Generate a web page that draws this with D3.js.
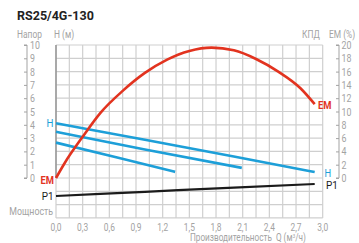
<!DOCTYPE html>
<html><head><meta charset="utf-8">
<script src="https://cdn.jsdelivr.net/npm/d3@7"></script>
<style>html,body{margin:0;padding:0;background:#fff;}svg{display:block;}</style>
</head><body>
<script>
// ---- data ----
const title = "RS25/4G-130";
const xTicks = [0, 0.3, 0.6, 0.9, 1.2, 1.5, 1.8, 2.1, 2.4, 2.7, 3.0];
const hTicks = [0,1,2,3,4,5,6,7,8,9,10];
const emTicks = [0,2,4,6,8,10,12,14,16,18,20];
// EM (efficiency %) curve
const emQ = [0, 0.1, 0.3, 0.5, 0.75, 1.0, 1.25, 1.5, 1.75, 2.0, 2.25, 2.5, 2.75, 2.91];
const emV = [0, 2.3, 6.2, 9.8, 13.1, 15.8, 17.8, 19.1, 19.6, 19.2, 17.9, 16.0, 13.5, 11.1];
// H curves (three speeds)
const h1Q = [0, 1.0, 2.0, 2.91];
const h1V = [4.12, 2.87, 1.62, 0.45];
const h2Q = [0, 1.0, 2.09];
const h2V = [3.47, 2.15, 0.76];
const h3Q = [0, 0.7, 1.34];
const h3V = [2.66, 1.53, 0.46];
// P1 power curve (W)
const p1Q = [0, 1.0, 2.0, 2.91];
const p1V = [55, 65.5, 76, 85];

const W = 359, H = 243;
const svg = d3.select("body").append("svg").attr("width", W).attr("height", H);

const x = d3.scaleLinear().domain([0, 3]).range([56, 322.7]);
const yH = d3.scaleLinear().domain([0, 10]).range([178, 45]);
const yE = d3.scaleLinear().domain([0, 20]).range([178, 45]);
const yP = d3.scaleLinear().domain([0, 100]).range([218, 178]);

const gray = "#a3a3a3", grid = "#cfcfcf", red = "#e2331f", blue = "#1d9fd8", black = "#1b1b1b";
const FONT = "Roboto, 'Noto Sans', sans-serif";

function ctext(str, px, py, opt) {
  opt = opt || {};
  const t = svg.append("text")
    .attr("transform", `translate(${px},${py}) scale(${opt.sx || 0.8},1)`)
    .attr("font-family", FONT)
    .attr("font-size", opt.size || 10.5)
    .attr("fill", opt.fill || gray)
    .attr("font-weight", opt.weight || "normal")
    .attr("text-anchor", opt.anchor || "start")
    .text(str);
  return t;
}

// grid
const gGrid = svg.append("g");
const vLines = d3.range(0, 21).map(i => i * 0.15);
gGrid.selectAll("line.v").data(vLines).enter().append("line")
  .attr("x1", d => x(d)).attr("x2", d => x(d))
  .attr("y1", yH(10)).attr("y2", yH(-3))
  .attr("stroke", grid).attr("stroke-width", 1.2);
const hLines = d3.range(-3, 11);
gGrid.selectAll("line.h").data(hLines).enter().append("line")
  .attr("x1", x(0)).attr("x2", x(3))
  .attr("y1", d => yH(d)).attr("y2", d => yH(d))
  .attr("stroke", grid).attr("stroke-width", 1.2);
// left border darker
svg.append("line").attr("x1", x(0)).attr("x2", x(0)).attr("y1", yH(10)).attr("y2", yH(0))
  .attr("stroke", "#8a8a8a").attr("stroke-width", 1.3);

// left axis (H)
const axL = d3.axisLeft(yH).tickValues(hTicks).tickSize(3).tickFormat("");
const gL = svg.append("g").attr("transform", "translate(27,0)").call(axL);
gL.select(".domain").attr("stroke", gray).attr("d", `M-3,${yH(10)}H0V${yH(0)}H-3`);
gL.selectAll(".tick line").attr("stroke", gray);
hTicks.forEach(v => ctext(String(v), 30, yH(v) + 4, {size: 11}));

// right axis (EM)
const axR = d3.axisLeft(yE).tickValues(emTicks).tickSize(3).tickFormat("");
const gR = svg.append("g").attr("transform", "translate(339,0)").call(axR);
gR.select(".domain").attr("stroke", gray).attr("d", `M-3,${yE(20)}H0V${yE(0)}H-3`);
gR.selectAll(".tick line").attr("stroke", gray);
emTicks.forEach(v => ctext(String(v), 341.5, yE(v) + 4, {size: 11}));

// x tick labels
xTicks.forEach(v => ctext(d3.format(".1f")(v).replace(".", ","), x(v), 230.5, {anchor: "middle", size: 10.5}));

// curves
const line = (xs, ys, ys_scale, curve) => d3.line()
  .x((d, i) => x(xs[i])).y((d, i) => ys_scale(ys[i])).curve(curve)(xs);

svg.append("path").attr("d", line(p1Q, p1V, yP, d3.curveMonotoneX))
  .attr("fill", "none").attr("stroke", black).attr("stroke-width", 2.2);
[[h1Q, h1V], [h2Q, h2V], [h3Q, h3V]].forEach(([q, v]) => {
  svg.append("path").attr("d", line(q, v, yH, d3.curveMonotoneX))
    .attr("fill", "none").attr("stroke", blue).attr("stroke-width", 2.6);
});
svg.append("path").attr("d", line(emQ, emV, yE, d3.curveMonotoneX))
  .attr("fill", "none").attr("stroke", red).attr("stroke-width", 2.6);

// title & header labels
svg.append("text").attr("x", 17).attr("y", 20).attr("font-family", FONT)
  .attr("font-size", 12.5).attr("font-weight", "bold").attr("fill", "#222").text(title);
ctext("Напор", 17, 38, {});
ctext("H (м)", 54, 38, {});
ctext("КПД", 302, 38, {});
ctext("EM (%)", 329, 38, {});

// curve labels
ctext("H", 53.5, yH(4.12) + 4, {fill: blue, anchor: "end", sx: 0.85, size: 11.5});
ctext("EM", 54, yE(0) + 6, {fill: red, anchor: "end", weight: "bold", sx: 0.85, size: 11});
ctext("P1", 53.5, yP(p1V[0]) + 4, {fill: black, anchor: "end", sx: 0.9, size: 11});
ctext("Мощность", 53, 215, {anchor: "end", size: 11});
ctext("EM", 318, yE(emV[emV.length - 1]) + 5, {fill: red, weight: "bold", sx: 0.85, size: 11});
ctext("H", 324.5, yH(h1V[h1V.length - 1]) + 4.5, {fill: blue, sx: 0.85, size: 11});
ctext("P1", 326, yP(p1V[p1V.length - 1]) + 5, {fill: black, sx: 0.9, size: 11});
const bl = ctext("Производительность\u00A0 Q (м", 190, 241, {sx: 0.82, size: 10});
bl.append("tspan").attr("font-size", 6).attr("dy", -3).text("3");
bl.append("tspan").attr("dy", 3).text("/ч)");
</script>
</body></html>
